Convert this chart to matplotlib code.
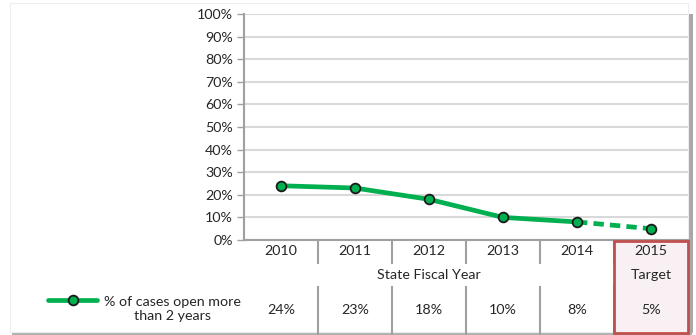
import matplotlib
matplotlib.use("Agg")
import matplotlib.pyplot as plt
from matplotlib.patches import Rectangle
from matplotlib.lines import Line2D
from matplotlib.ticker import FuncFormatter, MultipleLocator

years = ["2010", "2011", "2012", "2013", "2014", "2015"]
values = [24, 23, 18, 10, 8, 5]
value_labels = ["24%", "23%", "18%", "10%", "8%", "5%"]
x_title = "State Fiscal Year"
target_label = "Target"
series_name = "% of cases open more\nthan 2 years"

W, H = 696, 335
fig = plt.figure(figsize=(W / 100, H / 100), dpi=100)
plt.rcParams['font.family'] = ['Lato', 'DejaVu Sans']
FS = 10.3

GREEN = "#00b050"
GRID = "#d9d9d9"
AX = "#a0a0a0"
TXT = "#262626"
RED = "#c0504d"

def fx(px):
    return px / W

def fy(py):
    return 1 - py / H

# frame with shadow
fig.patches.append(Rectangle((fx(689), fy(333)), fx(4), fy(14) - fy(333), transform=fig.transFigure,
                             facecolor="#a8a8a8", edgecolor="none", zorder=-3))
fig.patches.append(Rectangle((fx(12), fy(336)), fx(680), fy(332) - fy(336), transform=fig.transFigure,
                             facecolor="#b0b0b0", edgecolor="none", zorder=-3))
fig.patches.append(Rectangle((fx(10), fy(332)), fx(678), fy(3) - fy(332), transform=fig.transFigure,
                             facecolor="white", edgecolor="#eeeeee", lw=0.8, zorder=-2))

x0, x1, y0, y1 = 244, 688, 240, 14
ax = fig.add_axes([fx(x0), fy(y0), fx(x1) - fx(x0), fy(y1) - fy(y0)])
ax.set_facecolor("none")
ax.set_xlim(-0.5, len(years) - 0.5)
ax.set_ylim(0, 100)
ax.yaxis.set_major_locator(MultipleLocator(10))
ax.yaxis.set_major_formatter(FuncFormatter(lambda v, p: f"{int(v)}%"))
ax.grid(axis="y", color=GRID, lw=1.5)
ax.set_axisbelow(True)
for s in ["top", "right"]:
    ax.spines[s].set_visible(False)
for s in ["left", "bottom"]:
    ax.spines[s].set_color(AX)
    ax.spines[s].set_linewidth(1.5)
ax.tick_params(axis="y", colors=AX, length=5, width=1, labelcolor=TXT, labelsize=FS, pad=3)
ax.set_xticks([])

xs = list(range(len(years)))
ax.plot(xs[:5], values[:5], color=GREEN, lw=3.4, solid_capstyle="round", zorder=3)
ax.plot(xs[4:], values[4:], color=GREEN, lw=3.4, ls=(0, (2.2, 1.3)), zorder=3)
ax.plot(xs, values, ls="none", marker="o", ms=7, mfc=GREEN, mec="#1a1a1a", mew=1.3, zorder=4)

# table region
tr = ax.get_xaxis_transform()
def axy(py):
    return (y0 - py) / (y0 - y1)

# target highlight box: fill below, outline above the dividers
ax.add_patch(Rectangle((4.5, axy(333)), 1.0, axy(240.5) - axy(333), transform=tr,
                       facecolor="#f8f0f3", edgecolor="none", clip_on=False, zorder=1))
ax.add_patch(Rectangle((4.5, axy(333)), 1.0, axy(240.5) - axy(333), transform=tr,
                       facecolor="none", edgecolor=RED, lw=2, clip_on=False, zorder=6))

for k in range(len(years) - 1):
    xd = k + 0.5
    ax.add_line(Line2D([xd, xd], [axy(240), axy(263)], transform=tr, color=AX, lw=1.5, clip_on=False, zorder=2))
    ax.add_line(Line2D([xd, xd], [axy(287), axy(335)], transform=tr, color=AX, lw=1.5, clip_on=False, zorder=2))

for i, (yr, vl) in enumerate(zip(years, value_labels)):
    ax.text(i, axy(251), yr, transform=tr, ha="center", va="center", fontsize=FS, color=TXT, clip_on=False, zorder=5)
    ax.text(i, axy(310), vl, transform=tr, ha="center", va="center", fontsize=FS, color=TXT, clip_on=False, zorder=5)

ax.text(2, axy(275), x_title, transform=tr, ha="center", va="center", fontsize=FS, color=TXT, clip_on=False)
ax.text(5, axy(275), target_label, transform=tr, ha="center", va="center", fontsize=FS, color=TXT, clip_on=False)

# legend key
fig.add_artist(Line2D([fx(48), fx(97)], [fy(300), fy(300)], transform=fig.transFigure,
                      color=GREEN, lw=3.4, solid_capstyle="round"))
fig.add_artist(Line2D([fx(73)], [fy(300)], transform=fig.transFigure, ls="none",
                      marker="o", ms=7, mfc=GREEN, mec="#1a1a1a", mew=1.3))
fig.text(fx(172), fy(309), series_name, ha="center", va="center", fontsize=FS, color=TXT,
         linespacing=1.3)

fig.savefig("out.png", dpi=100)
